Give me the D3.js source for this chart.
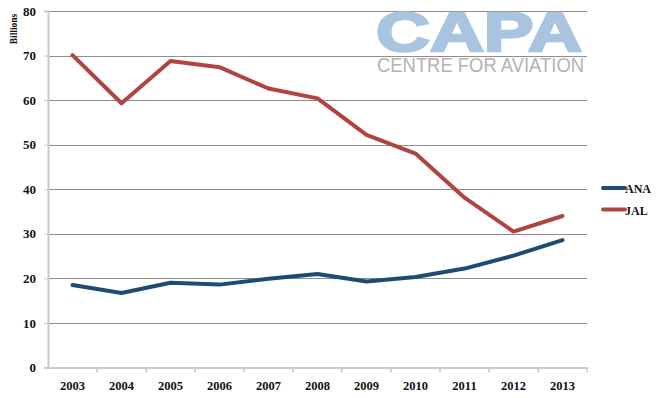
<!DOCTYPE html>
<html>
<head>
<meta charset="utf-8">
<script src="https://cdn.jsdelivr.net/npm/d3@7"></script>
<style>
body { margin: 0; background: #ffffff; }
svg text.serif { font-family: "Liberation Serif", "Times New Roman", Times, "DejaVu Serif", serif; font-weight: bold; }
</style>
</head>
<body>
<div id="chart"></div>
<script>
// ----------------------------------------------------------
// DATA -----------------------------------------------------
// ----------------------------------------------------------
var years = ["2003", "2004", "2005", "2006", "2007", "2008", "2009", "2010", "2011", "2012", "2013"];
var ana_values = [18.5, 16.7, 19.0, 18.6, 19.9, 21.0, 19.3, 20.3, 22.2, 25.1, 28.6];
var jal_values = [70.1, 59.3, 68.8, 67.4, 62.6, 60.4, 52.2, 48.0, 38.1, 30.5, 34.0];
var y_ticks = [0, 10, 20, 30, 40, 50, 60, 70, 80];
var series_names = ["ANA", "JAL"];

// ----------------------------------------------------------
// SETUP ----------------------------------------------------
// ----------------------------------------------------------
var width = 661, height = 398;
var plot_left = 48, plot_right = 587, plot_top = 11, plot_bottom = 367.5;
var color_ana = "#1d4b74", color_jal = "#b1443f";
var color_grid = "#8e8e8e", color_axis = "#c9c9c9";
var serif = "'Liberation Serif', 'Times New Roman', Times, serif";

var svg = d3.select("#chart").append("svg")
.attr("width", width)
.attr("height", height);

var x = d3.scaleBand().domain(years).range([plot_left, plot_right]);
var y = d3.scaleLinear().domain([0, 80]).range([plot_bottom, plot_top]);

// ----------------------------------------------------------
// GRID & AXES ----------------------------------------------
// ----------------------------------------------------------
svg.append("g").selectAll("line")
.data(y_ticks.filter(function(d) { return d > 0; }))
.enter().append("line")
.attr("x1", plot_left).attr("x2", plot_right)
.attr("y1", function(d) { return Math.round(y(d)) + 0.5; })
.attr("y2", function(d) { return Math.round(y(d)) + 0.5; })
.style("stroke", color_grid).style("stroke-width", 1);

// y axis
var y_axis = svg.append("g")
.attr("transform", "translate(" + plot_left + ",0)")
.call(d3.axisLeft(y).tickValues(y_ticks).tickSize(4).tickPadding(8));
y_axis.attr("font-family", null);
y_axis.select(".domain").style("stroke", color_axis).style("stroke-width", 2);
y_axis.selectAll(".tick line").style("stroke", color_axis);
y_axis.selectAll("text")
.attr("class", "serif")
.attr("font-family", serif).attr("font-weight", "bold")
.style("font-size", "13px").style("fill", "#111");

// x axis
var x_axis = svg.append("g")
.attr("transform", "translate(0," + plot_bottom + ")")
.call(d3.axisBottom(x).tickSize(0).tickPadding(14));
x_axis.attr("font-family", null);
x_axis.select(".domain").style("stroke", color_axis).style("stroke-width", 2);
x_axis.selectAll("text")
.attr("class", "serif")
.attr("font-family", serif).attr("font-weight", "bold")
.style("font-size", "12.5px").style("fill", "#111");
// tick marks between bands
x_axis.selectAll(".sep")
.data(years)
.enter().append("line")
.attr("class", "sep")
.attr("x1", function(d) { return x(d) + x.bandwidth(); })
.attr("x2", function(d) { return x(d) + x.bandwidth(); })
.attr("y1", 0).attr("y2", 5)
.style("stroke", color_axis).style("stroke-width", 1.5);

// axis title
svg.append("text")
.attr("class", "serif")
.attr("transform", "translate(17,29) rotate(-90)")
.attr("text-anchor", "middle")
.attr("font-family", serif).attr("font-weight", "bold")
.style("font-size", "9.5px")
.style("fill", "#111")
.text("Billions");

// ----------------------------------------------------------
// LOGO -----------------------------------------------------
// ----------------------------------------------------------
svg.append("text")
.attr("x", 376).attr("y", 51)
.attr("textLength", 206).attr("lengthAdjust", "spacingAndGlyphs")
.style("font-family", "Liberation Sans").style("font-weight", "bold")
.style("font-size", "55px").style("fill", "#a8c4e1")
.style("stroke", "#a8c4e1").style("stroke-width", 2.5)
.text("CAPA");
svg.append("text")
.attr("x", 377).attr("y", 71.5)
.attr("textLength", 207).attr("lengthAdjust", "spacingAndGlyphs")
.style("font-family", "Liberation Sans").style("font-weight", "normal")
.style("font-size", "19.5px").style("fill", "#b3b3b3")
.text("CENTRE FOR AVIATION");

// ----------------------------------------------------------
// LINES ----------------------------------------------------
// ----------------------------------------------------------
var line = d3.line()
.x(function(d, i) { return x(years[i]) + x.bandwidth() / 2; })
.y(function(d) { return y(d); });

var series = [
{ name: series_names[0], values: ana_values, color: color_ana },
{ name: series_names[1], values: jal_values, color: color_jal }
];

svg.append("g").selectAll("path")
.data(series)
.enter().append("path")
.attr("d", function(d) { return line(d.values); })
.style("fill", "none")
.style("stroke", function(d) { return d.color; })
.style("stroke-width", 4)
.style("stroke-linejoin", "round")
.style("stroke-linecap", "round");

// ----------------------------------------------------------
// LEGEND ---------------------------------------------------
// ----------------------------------------------------------
var legend = svg.append("g").selectAll("g")
.data(series)
.enter().append("g")
.attr("transform", function(d, i) { return "translate(603," + (188 + i * 21.5) + ")"; });
legend.append("line")
.attr("x1", 0).attr("x2", 22)
.style("stroke", function(d) { return d.color; })
.style("stroke-width", 4)
.style("stroke-linecap", "round");
legend.append("text")
.attr("class", "serif")
.attr("x", 22).attr("y", 5)
.attr("font-family", serif).attr("font-weight", "bold")
.style("font-size", "12px")
.style("fill", "#111")
.text(function(d) { return d.name; });
</script>
</body>
</html>
